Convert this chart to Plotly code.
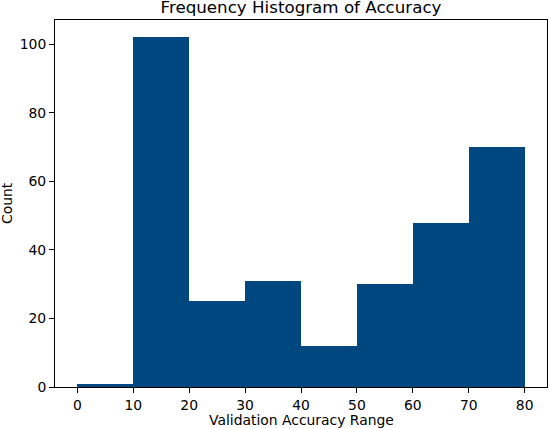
import plotly.graph_objects as go

bin_starts = [0, 10, 20, 30, 40, 50, 60, 70]
bin_width = 10
counts = [1, 102, 25, 31, 12, 30, 48, 70]
x_ticks = [0, 10, 20, 30, 40, 50, 60, 70, 80]
y_ticks = [0, 20, 40, 60, 80, 100]

FONT = "DejaVu Sans"
fig = go.Figure()
fig.add_trace(go.Bar(
    x=bin_starts, y=counts, width=bin_width, offset=0,
    marker=dict(color="#00467f", line=dict(width=0)),
))
fig.update_layout(
    width=548, height=428,
    margin=dict(l=55, r=1, t=20, b=41),
    paper_bgcolor="white", plot_bgcolor="white",
    font=dict(family=FONT, size=13.9, color="black"),
    showlegend=False, bargap=0,
    title=dict(text="Frequency Histogram of Accuracy", font=dict(size=16.7, color="black"),
               x=0.5, xref="paper", xanchor="center", y=1, yref="paper", yanchor="bottom",
               pad=dict(b=7)),
    annotations=[
        dict(text="Validation Accuracy Range", x=0.5, xref="paper", y=0, yref="paper",
             xanchor="center", yanchor="middle", yshift=-33, showarrow=False,
             font=dict(size=13.9, color="black")),
        dict(text="Count", x=0, xref="paper", y=0.5, yref="paper", textangle=-90,
             xanchor="center", yanchor="middle", xshift=-48.5, showarrow=False,
             font=dict(size=13.9, color="black")),
    ],
)
fig.update_xaxes(
    range=[-4, 84], tickvals=x_ticks, ticks="outside", ticklen=5, tickwidth=1, tickcolor="black",
    showline=True, linecolor="black", linewidth=1, mirror=True, showgrid=False, zeroline=False,
    automargin=False, tickfont=dict(size=13.9),
)
fig.update_yaxes(
    range=[0, 107.1], tickvals=y_ticks, ticks="outside", ticklen=5, tickwidth=1, tickcolor="black",
    showline=True, linecolor="black", linewidth=1, mirror=True, showgrid=False, zeroline=False,
    automargin=False, tickfont=dict(size=13.9),
)
fig.write_html("out.html", config={"displayModeBar": False},
               post_script="document.body.style.margin='0';document.body.style.overflow='hidden';")
